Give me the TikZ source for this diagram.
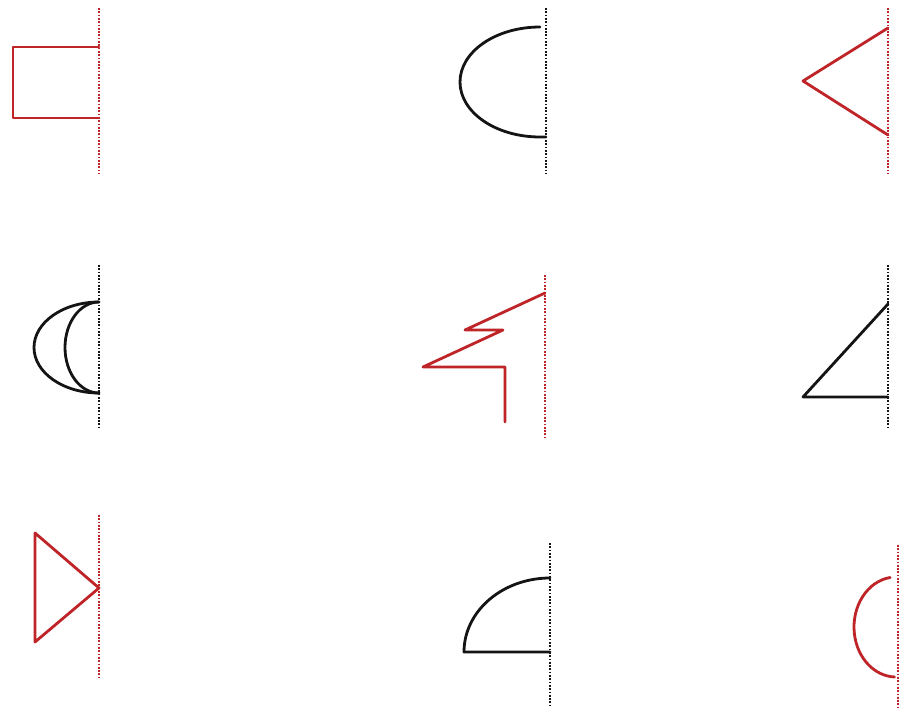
\documentclass[tikz,border=0pt]{standalone}
\definecolor{shred}{RGB}{190,36,40}
\definecolor{shblack}{RGB}{20,20,20}
\begin{document}
\begin{tikzpicture}[x=1pt,y=-1pt,
  guide/.style={line width=2.1pt, dash pattern=on 1.7pt off 1.6pt},
  outline/.style={line width=2.8pt, line join=round, line cap=round}]
\useasboundingbox (0,0) rectangle (905,720);
% panel 1: square, red
\draw[guide,shred] (99,8) -- (99,174);
\draw[outline,shred] (99,47) -- (13,47) -- (13,118) -- (99,118);
% panel 2: half ellipse, black
\draw[guide,shblack] (546,8) -- (546,174);
\draw[outline,shblack] (540,27) arc[start angle=270, end angle=90, x radius=80, y radius=55] -- (546,137);
% panel 3: triangle, red
\draw[guide,shred] (888,8) -- (888,174);
\draw[outline,shred] (888,28) -- (803,81) -- (888,135);
% panel 4: crescent, black
\draw[guide,shblack] (99,265) -- (99,428);
\draw[outline,shblack] (99,302) arc[start angle=270, end angle=90, x radius=65, y radius=45.5];
\draw[outline,shblack] (99,302) arc[start angle=270, end angle=90, x radius=34, y radius=45.5];
% panel 5: zigzag, red
\draw[guide,shred] (545,275) -- (545,438);
\draw[outline,shred] (545,293) -- (465,330) -- (503,330) -- (423,367) -- (505,367) -- (505,422);
% panel 6: right triangle, black
\draw[guide,shblack] (888,265) -- (888,428);
\draw[outline,shblack] (888,304) -- (803,397) -- (888,397);
% panel 7: triangle pointing right, red
\draw[guide,shred] (99,515) -- (99,678);
\draw[outline,shred] (99,588) -- (35,533) -- (35,642) -- cycle;
% panel 8: quarter ellipse, black
\draw[guide,shblack] (550,543) -- (550,707);
\draw[outline,shblack] (550,578) arc[start angle=270, end angle=180, x radius=86, y radius=74] -- (550,652);
% panel 9: arc, red
\draw[guide,shred] (898,545) -- (898,708);
\draw[outline,shred] (896,627) ++(262:42 and 50) arc[start angle=262, end angle=92, x radius=42, y radius=50];
\end{tikzpicture}
\end{document}
